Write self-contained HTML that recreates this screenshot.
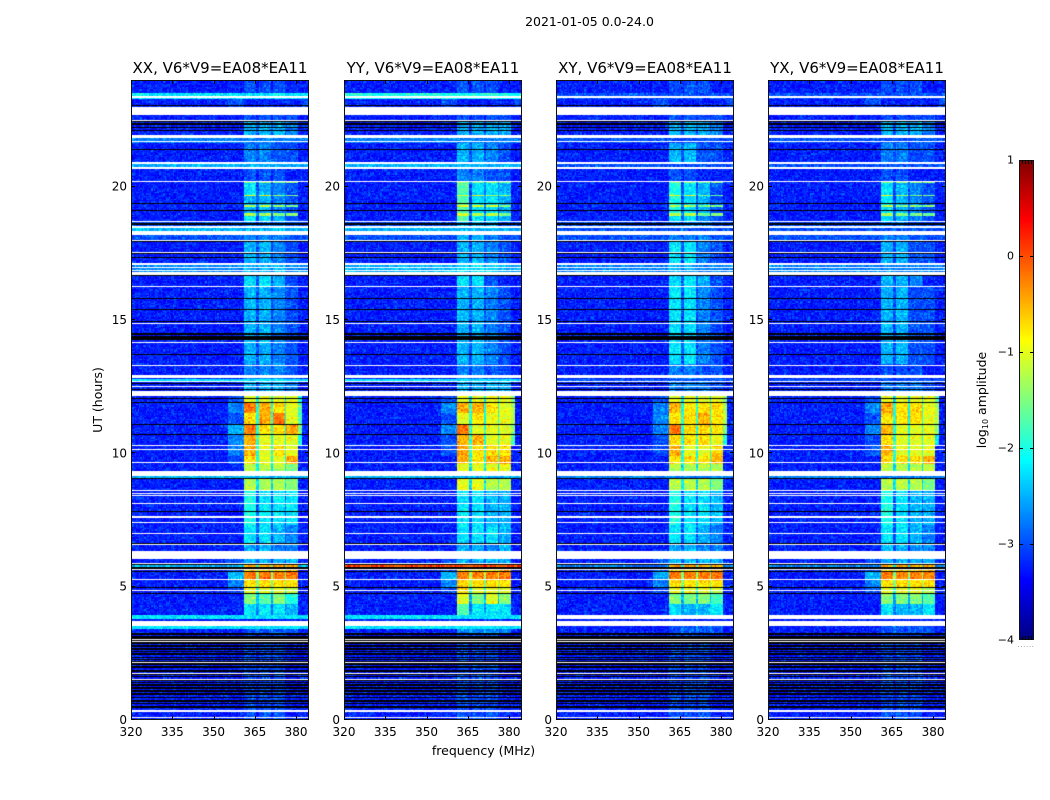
<!DOCTYPE html>
<html>
<head>
<meta charset="utf-8">
<title>2021-01-05 waterfall</title>
<style>
html,body{margin:0;padding:0;background:#fff;}
#page{position:relative;width:1050px;height:800px;overflow:hidden;background:#fff;font-family:"DejaVu Sans","Liberation Sans",sans-serif;}
canvas{position:absolute;display:block;}
#overlay{position:absolute;left:0;top:0;}
text{font-family:"DejaVu Sans","Liberation Sans",sans-serif;fill:#000;}
</style>
</head>
<body>
<div id="page">
<svg id="overlay" width="1050" height="800" viewBox="0 0 1050 800">
  <text x="589.500" y="26" font-size="12.500" text-anchor="middle">2021-01-05 0.0-24.0</text>
  <text x="483.500" y="755" font-size="12.500" text-anchor="middle">frequency (MHz)</text>
  <text transform="translate(102,400) rotate(-90)" font-size="12.500" text-anchor="middle">UT (hours)</text>
  <text transform="translate(986,400) rotate(-90)" font-size="12.500" text-anchor="middle">log<tspan font-size="8" dy="2">10</tspan><tspan dy="-2"> amplitude</tspan></text>
  <text x="1026" y="647" font-size="7" text-anchor="middle" letter-spacing="0.6" style="fill:#888">......</text>
</svg>
</div>
<script>
/* ---------- chart data ---------- */
const panelTitles = ["XX, V6*V9=EA08*EA11","YY, V6*V9=EA08*EA11","XY, V6*V9=EA08*EA11","YX, V6*V9=EA08*EA11"];
const panelKeys = ["xx","yy","xy","yx"];
const freqTicks = [320,335,350,365,380];
const hourTicks = [0,5,10,15,20];
const colorbarTicks = [-4,-3,-2,-1,0,1];

/* frequency band edges in MHz: off-band, ramp, A, gap, B, gap, C, gap, D, tail, off-band */
const freqEdges = [320,355.5,361,365.8,366.5,370.8,371.6,375.9,376.4,380.7,382.2,384.7];

/* top hour of each time segment */
const segmentTops = [3.2,3.4,3.72,3.79,3.94,4.35,4.76,5.0,5.25,5.6,5.72,5.78,5.85,6.04,6.6,7.3,8.58,9.07,9.16,9.6,9.9,10.3,10.7,11.07,11.5,11.9,12.16,12.54,12.71,12.81,13.33,14.2,15.0,16.23,16.69,17.13,17.55,18.0,18.19,18.45,18.68,18.9,19.0,19.25,19.3,19.64,19.68,20.15,20.21,20.67,20.85,21.66,21.84,22.45,22.69,23.3,23.34,23.5,24];

/* level per band per segment: one character = 0.25 dex above -4 (0..9,a..j); w = flagged */
const xxLevels = ["33434343333","33454545433","77777777777","33333333333","77777777777","33757575633","33a696a7833","34c8c8c8b33","35dadadad33","36fafafaf33","34dadadae33","66e8e8e8e66","34dadadad33","34646464633","33646454533","33747464533","33847474733","33b7b7b7a33","66666666666","33b7b7b7a33","34d8c8c8e33","35e8c8d8c33","35e8c8c8c83","36f8d8d8ea3","34d8e8f8c93","35f8e8d8c93","34c7c7c7c83","33646464533","33646464533","77777777777","33545454433","33646454433","33646454433","33646454433","33747464433","55656565555","33646454433","33646454433","44545454444","66666666666","44545454444","33747464433","33b5b5a5a33","33646454433","33b5b5a5a33","33646454433","33c5c5a5a33","33746454433","33a5a5a5a33","33434343333","66666666666","33545444433","55555555555","33646464533","33434343433","34333333334","77777777777","77777777777","33434343333"];
const yyLevels = ["33434343333","33565656533","77777777777","33333333333","77777777777","33957577733","33c6a6c6a33","34d8c8c8c33","35dadadad33","36fbfbfbf33","34dadadae33","ggggggggggg","34dadadad33","34646464633","33646454633","33747474633","33747464633","33c7c7b8b33","66666666666","33c7c7c7c33","33e8d8e8e33","34e8d8d8d33","34e8e8c8c93","35f8c8c8ca3","34c8d8c8cb3","35e8e8d8cb3","34c7c7c7ca3","33646464633","33646464633","77777777777","33545444433","33646454433","33646454433","33646454433","33747443333","66767676666","33646454433","33646454433","44646454444","66666666666","44646464444","33947474633","33c5b5b5a33","33947474633","33c5b5b5a33","33947575633","33c5c6b6a33","33947575633","33a6a6a6a33","33545444433","66666666666","33646454433","55555555555","33646464633","33434343433","34333333334","88888888888","88888888888","33434343333"];
const xyLevels = ["33434343333","33454545433","33454545433","33333333333","wwwwwwwwwww","33756767733","33a6a6a6933","34c8c8c8b33","35dadadad33","36fafafaf33","34dadadae33","55e8e8e8e55","34dadadad33","34646464633","33646454533","33747464533","33847474633","33b7b7b7a33","55555555555","33b7b7b7b33","33d8d8d8e33","34e8c8c8d33","34d8d8d8c83","35f8d8d8da3","35d8d8e8db3","35e8d8d8db3","34c7c7c7ca3","33545454433","33545454433","44444444444","33545444433","33747454433","33747454433","33747454433","33747464433","55656555555","33747454433","33747454433","44545454444","44454444444","44545454444","33747454433","33b5b5a5a33","33847464433","33b5b5a5a33","33847464433","33c5c5a5a33","33847464433","33a5a5a5a33","33434333333","44444444444","33646444433","44444444444","33646464533","33434343433","34333333334","44444444444","44444444444","33434343333"];
const yxLevels = ["33434343333","33454545433","33454545433","33333333333","wwwwwwwwwww","33756565733","33a6a6a6933","34c8c8c8b33","35dadadad33","36fafafaf33","34dadadae33","55e8e8e8e55","34dadadad33","34646464633","33646454533","33747464533","33847464633","33b7b7b7a33","55555555555","33b7b7b7b33","33d8d8d8e33","34e8c8c8c33","34d8c8c8c73","35e8c8c8ca3","34d8d8d8cb3","35e8d8d8cb3","34c7c7c7c93","33545454433","33545454433","44444444444","33434343333","33646444433","33646444433","33646444433","33646454333","55555555555","33646444433","33646444433","44545444444","44454444444","44545444444","33746454433","33b5a5a5a33","33746454433","33b5a5a5a33","33746454433","33c5b5a5a33","33746454433","33a5a5a5a33","33434333333","44444444444","33545444433","44444444444","33646464533","33434343433","34333333334","44444444444","44444444444","33434343333"];

/* flagged intervals in UT hours, common to all four panels */
const whiteFlags = [[0.06,0.10],[0.29,0.38],[1.50,1.54],[1.73,1.76],[2.13,2.16],[2.91,2.95],[3.00,3.04],[3.51,3.72],[4.84,4.88],[5.25,5.29],[5.63,5.66],[5.85,5.89],[6.04,6.34],[6.56,6.60],[6.98,7.00],[7.39,7.41],[7.58,7.65],[8.09,8.13],[8.40,8.43],[8.49,8.52],[8.58,8.63],[9.16,9.34],[9.64,9.68],[10.13,10.16],[10.26,10.31],[12.16,12.34],[12.50,12.54],[12.66,12.71],[12.81,12.94],[13.31,13.33],[14.14,14.18],[14.85,14.90],[16.23,16.28],[16.69,16.81],[16.83,16.88],[16.94,17.00],[17.06,17.13],[17.51,17.55],[17.95,18.00],[18.19,18.35],[18.45,18.54],[18.68,18.71],[20.18,20.21],[20.67,20.75],[20.85,20.93],[21.66,21.72],[21.84,21.94],[22.45,22.50],[22.69,23.00],[23.34,23.40]];
const blackFlags = [[0.46,0.52],[0.59,0.65],[0.69,0.76],[0.81,0.88],[0.94,1.00],[1.04,1.11],[1.16,1.23],[1.29,1.35],[1.38,1.44],[1.46,1.50],[1.60,1.66],[1.69,1.73],[1.81,1.88],[1.94,2.01],[2.06,2.12],[2.18,2.22],[2.24,2.29],[2.31,2.38],[2.44,2.50],[2.54,2.60],[2.63,2.70],[2.73,2.80],[2.85,2.91],[2.95,3.00],[3.04,3.15],[3.19,3.26],[4.73,4.76],[4.94,4.99],[5.57,5.60],[5.68,5.72],[5.81,5.85],[6.60,6.63],[7.80,7.84],[9.04,9.07],[10.69,10.72],[11.07,11.10],[11.89,11.92],[12.03,12.08],[12.40,12.43],[12.59,12.62],[13.68,13.71],[14.25,14.40],[14.44,14.52],[14.95,14.98],[15.38,15.41],[15.79,15.83],[16.64,16.69],[17.13,17.15],[17.33,17.36],[17.48,17.51],[17.91,17.95],[18.58,18.62],[19.09,19.13],[19.36,19.39],[21.38,21.42],[22.09,22.13],[22.20,22.24],[22.33,22.37],[22.41,22.45],[23.01,23.06]];

/* hand-typed grain (level offsets) layered on the coarse band levels */
const cellGrain = [-0.5,0.3,-0.2,0.9,-0.7,0.1,0.5,-0.4,1.2,-0.1,-0.6,0.4,0.0,-0.3,0.8,-0.8,0.2,-0.2,0.6,-0.5,1.0,0.1,-0.4,-0.1,0.3,-0.7,0.7,0.0,-0.3,1.4,-0.6,0.2,-0.1,0.5,-0.5,0.1,0.9,-0.8,-0.2,0.4,-0.4,0.0,0.6,-0.6,1.1,0.2,-0.3,-0.1,0.3,-0.7,0.8,-0.2,0.1,-0.5,0.5,0.0,-0.4,1.3,-0.8,0.2,-0.1,0.4,-0.6,0.7,0.1,-0.3,-0.5,0.9,0.0,-0.2,0.3,-0.7,0.6,-0.4,0.2,1.0,-0.1,-0.6,0.4,-0.3,0.1,-0.8,0.7,0.0,-0.5,0.3,1.2,-0.2,-0.4,0.5,-0.7,0.1,0.8,-0.3,0.2,-0.6,0.0,0.4,-0.1,0.6,-0.5];

/* ---------- axis geometry and scales ---------- */
const panelLevels = [xxLevels,yyLevels,xyLevels,yxLevels];
const panelLeft = [131,344,556,768];
const panelWidth = 178;
const plotTop = 80, plotHeight = 640;
const freqMin = 320, freqMax = 384.7, hourMax = 24;
const cbarLeft = 1019, cbarWidth = 15, cbarTop = 160, cbarHeight = 480;
const valueMin = -4, valueMax = 1;
const levelChars = "0123456789abcdefghij";
const channelCount = 132, timeRowCount = 480;
const grainGain = 1.2;
const svgNS = "http://www.w3.org/2000/svg";
const overlay = document.getElementById("overlay");
const page = document.getElementById("page");

function xScale(mhz){ return (mhz - freqMin) / (freqMax - freqMin) * panelWidth; }
function yScale(hour){ return plotHeight - hour / hourMax * plotHeight; }
function cbarY(value){ return cbarTop + (valueMax - value) / (valueMax - valueMin) * cbarHeight; }
function clamp01(v){ return Math.max(0, Math.min(1, v)); }
function jet(value){
  const f = clamp01((value - valueMin) / (valueMax - valueMin));
  const r = clamp01(1.5 - Math.abs(4 * f - 3));
  const g = clamp01(1.5 - Math.abs(4 * f - 2));
  const b = clamp01(1.5 - Math.abs(4 * f - 1));
  return "rgb(" + Math.round(r * 255) + "," + Math.round(g * 255) + "," + Math.round(b * 255) + ")";
}
function svgEl(tag, parent){
  const el = document.createElementNS(svgNS, tag);
  parent.appendChild(el);
  return el;
}
function segmentAt(hour){
  for(let i = 0; i < segmentTops.length; i++){ if(hour <= segmentTops[i]) return i; }
  return segmentTops.length - 1;
}
function bandAt(mhz){
  for(let i = 1; i < freqEdges.length; i++){ if(mhz <= freqEdges[i]) return i - 1; }
  return freqEdges.length - 2;
}
function grainAt(ch, row, p){
  const k = ch * ch * 3 + ch * row * 7 + row * row * 5 + ch * 11 + row * 17 + p * 29;
  return cellGrain[k % cellGrain.length] * grainGain;
}

/* ---------- heatmap panels ---------- */
function drawPanel(p){
  const canvas = document.createElement("canvas");
  
  
  canvas.width = panelWidth;
  canvas.height = plotHeight;
  canvas.style.left = panelLeft[p] + "px";
  canvas.style.top = plotTop + "px";
  page.insertBefore(canvas, overlay);
  const ctx = canvas.getContext("2d");
  ctx.fillStyle = "#fff";
  ctx.fillRect(0, 0, panelWidth, plotHeight);
  const levels = panelLevels[p];
  for(let row = 0; row < timeRowCount; row++){
    const hourLo = row / timeRowCount * hourMax;
    const hourHi = (row + 1) / timeRowCount * hourMax;
    const seg = levels[segmentAt((hourLo + hourHi) / 2)];
    const y0 = Math.round(yScale(hourHi));
    const y1 = Math.round(yScale(hourLo));
    for(let ch = 0; ch < channelCount; ch++){
      const mhzLo = freqMin + ch / channelCount * (freqMax - freqMin);
      const mhzHi = freqMin + (ch + 1) / channelCount * (freqMax - freqMin);
      const ci = seg.charAt(bandAt((mhzLo + mhzHi) / 2));
      if(ci === "w") continue;
      const level = levelChars.indexOf(ci) + grainAt(ch, row, p);
      ctx.fillStyle = jet(valueMin + level * 0.25);
      const x0 = Math.round(xScale(mhzLo));
      const x1 = Math.round(xScale(mhzHi));
      ctx.fillRect(x0, y0, x1 - x0, y1 - y0);
    }
  }
  ctx.fillStyle = "#000";
  blackFlags.forEach(function(f){
    const a = Math.round(yScale(f[1]));
    ctx.fillRect(0, a, panelWidth, Math.max(1, Math.round(yScale(f[0])) - a));
  });
  ctx.fillStyle = "#fff";
  whiteFlags.forEach(function(f){
    const a = Math.round(yScale(f[1]));
    ctx.fillRect(0, a, panelWidth, Math.max(1, Math.round(yScale(f[0])) - a));
  });
}

/* ---------- axes ---------- */
function drawAxes(p){
  const left = panelLeft[p];
  const g = svgEl("g", overlay);
  
  

  const frame = svgEl("rect", g);
  
  
  frame.setAttribute("x", left + 0.5);
  frame.setAttribute("y", plotTop + 0.5);
  frame.setAttribute("width", panelWidth - 1);
  frame.setAttribute("height", plotHeight - 1);
  frame.setAttribute("fill", "none");
  frame.setAttribute("stroke", "#111");
  frame.setAttribute("stroke-width", "1");

  const title = svgEl("text", g);
  
  
  title.setAttribute("x", left + panelWidth / 2);
  title.setAttribute("y", plotTop - 7);
  title.setAttribute("font-size", "15");
  title.setAttribute("text-anchor", "middle");
  title.textContent = panelTitles[p];

  freqTicks.forEach(function(t){
    const x = Math.round(left + xScale(t)) + 0.5;
    [[plotTop + plotHeight, plotTop + plotHeight - 4], [plotTop, plotTop + 4]].forEach(function(s){
      const tick = svgEl("line", g);
      
      
      tick.setAttribute("x1", x);
      tick.setAttribute("x2", x);
      tick.setAttribute("y1", s[0]);
      tick.setAttribute("y2", s[1]);
      tick.setAttribute("stroke", "#000");
    });
    const label = svgEl("text", g);
    
    
    label.setAttribute("x", left + xScale(t));
    label.setAttribute("y", plotTop + plotHeight + 16);
    label.setAttribute("font-size", "12");
    label.setAttribute("text-anchor", "middle");
    label.textContent = t;
  });

  hourTicks.forEach(function(t){
    const y = Math.round(plotTop + yScale(t)) - 0.5;
    [[left, left + 4], [left + panelWidth, left + panelWidth - 4]].forEach(function(s){
      const tick = svgEl("line", g);
      
      
      tick.setAttribute("x1", s[0]);
      tick.setAttribute("x2", s[1]);
      tick.setAttribute("y1", y);
      tick.setAttribute("y2", y);
      tick.setAttribute("stroke", "#000");
    });
    const label = svgEl("text", g);
    
    
    label.setAttribute("x", left - 4);
    label.setAttribute("y", plotTop + yScale(t) + 4);
    label.setAttribute("font-size", "12");
    label.setAttribute("text-anchor", "end");
    label.textContent = t;
  });
}

/* ---------- colorbar ---------- */
function drawColorbar(){
  const canvas = document.createElement("canvas");
  
  
  canvas.width = cbarWidth;
  canvas.height = cbarHeight;
  canvas.style.left = cbarLeft + "px";
  canvas.style.top = cbarTop + "px";
  page.insertBefore(canvas, overlay);
  const ctx = canvas.getContext("2d");
  for(let i = 0; i < cbarHeight; i++){
    ctx.fillStyle = jet(valueMax - (i + 0.5) / cbarHeight * (valueMax - valueMin));
    ctx.fillRect(0, i, cbarWidth, 1);
  }
  const g = svgEl("g", overlay);
  
  
  const outer = svgEl("rect", g);
  
  
  outer.setAttribute("x", cbarLeft + 0.5);
  outer.setAttribute("y", cbarTop + 0.5);
  outer.setAttribute("width", cbarWidth - 1);
  outer.setAttribute("height", cbarHeight - 1);
  outer.setAttribute("fill", "none");
  outer.setAttribute("stroke", "#111");
  colorbarTicks.forEach(function(v){
    const y = Math.round(cbarY(v)) - (v === valueMin ? 0.5 : -0.5);
    if(v !== valueMin && v !== valueMax){
      [[cbarLeft, cbarLeft + 4], [cbarLeft + cbarWidth, cbarLeft + cbarWidth - 4]].forEach(function(s){
        const tick = svgEl("line", g);
        
        
        tick.setAttribute("x1", s[0]);
        tick.setAttribute("x2", s[1]);
        tick.setAttribute("y1", y);
        tick.setAttribute("y2", y);
        tick.setAttribute("stroke", "#000");
      });
    }
    const label = svgEl("text", g);
    
    
    label.setAttribute("x", cbarLeft - 5);
    label.setAttribute("y", cbarY(v) + 3.5);
    label.setAttribute("font-size", "11");
    label.setAttribute("text-anchor", "end");
    label.textContent = v < 0 ? "\u2212" + Math.abs(v) : String(v);
  });
  [0.2,0.4,0.6,0.8].forEach(function(frac){
    [[cbarTop, cbarTop + 4], [cbarTop + cbarHeight, cbarTop + cbarHeight - 4]].forEach(function(s){
      const tick = svgEl("line", g);
      
      
      tick.setAttribute("x1", Math.round(cbarLeft + frac * cbarWidth) + 0.5);
      tick.setAttribute("x2", Math.round(cbarLeft + frac * cbarWidth) + 0.5);
      tick.setAttribute("y1", s[0]);
      tick.setAttribute("y2", s[1]);
      tick.setAttribute("stroke", "#000");
    });
  });
}

for(let p = 0; p < panelTitles.length; p++){
  drawPanel(p);
  drawAxes(p);
}
drawColorbar();
</script>
</body>
</html>
